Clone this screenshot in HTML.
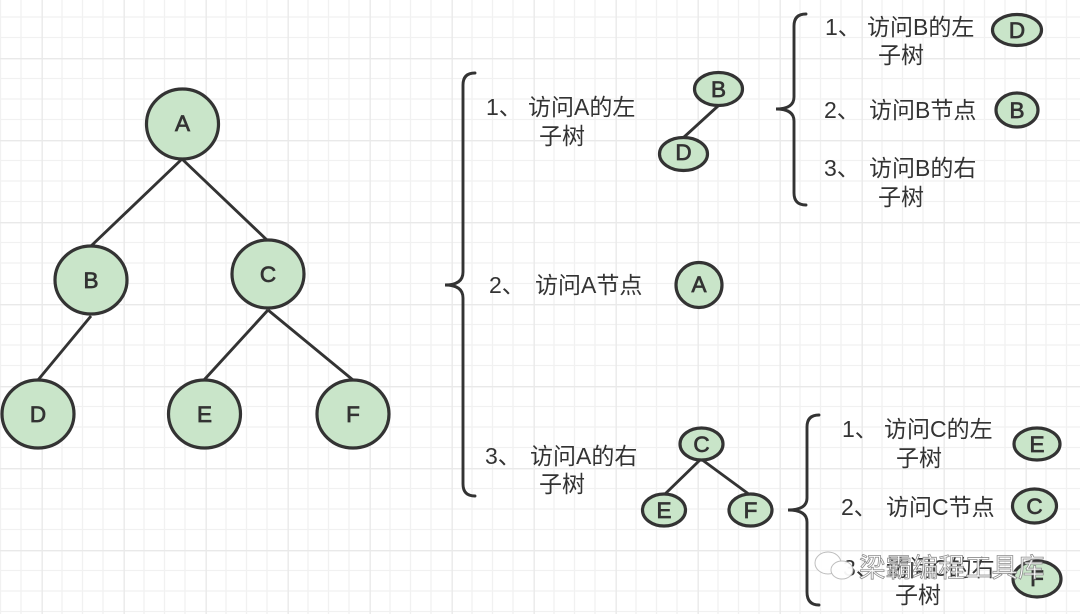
<!DOCTYPE html>
<html><head><meta charset="utf-8"><style>
html,body{margin:0;padding:0;background:#fff}
svg{display:block}
text{font-family:"Liberation Sans","Noto Sans CJK SC",sans-serif;fill:#333}
.n{font-size:22.5px;font-weight:400;text-anchor:middle;stroke:#333;stroke-width:.75}
.t{font-size:23px}
.c{fill:#c9e5c9;stroke:#333;stroke-width:3.2}
.l,.b{fill:none;stroke:#333;stroke-width:2.9}
.b{stroke-linecap:round}
</style></head><body>
<svg width="1080" height="614" viewBox="0 0 1080 614" xmlns="http://www.w3.org/2000/svg">
<defs>
<pattern id="g" x="41.5" y="58" width="82" height="82" patternUnits="userSpaceOnUse">
<path d="M20.5 0V82M41 0V82M61.5 0V82M0 20.5H82M0 41H82M0 61.5H82" stroke="#f1f1f1" stroke-width="1.3" fill="none"/>
<path d="M.6 0V82M0 .6H82" stroke="#e9e9e9" stroke-width="1.5" fill="none"/>
</pattern>
</defs>
<rect width="1080" height="614" fill="#fff"/>
<rect width="1080" height="614" fill="url(#g)"/>

<g class="lines">
<path class="l" d="M182 159L91 246M182 159L268 241M91 316L38 380M268 310L204 380M268 310L353 380M718 106L683 138M701 459L664 495M701 459L750 495"/>
</g>

<ellipse class="c" cx="182.500" cy="124" rx="36" ry="35"/>
<ellipse class="c" cx="91" cy="280" rx="36" ry="34"/>
<ellipse class="c" cx="268" cy="274" rx="36" ry="34"/>
<ellipse class="c" cx="38" cy="414" rx="36" ry="34"/>
<ellipse class="c" cx="204.500" cy="414" rx="36" ry="34"/>
<ellipse class="c" cx="353" cy="414" rx="36" ry="34"/>
<ellipse class="c" cx="718.500" cy="89" rx="24" ry="16.500"/>
<ellipse class="c" cx="683.500" cy="154" rx="24" ry="16.500"/>
<ellipse class="c" cx="699" cy="285" rx="23" ry="22.500"/>
<ellipse class="c" cx="701.500" cy="444" rx="21.500" ry="16"/>
<ellipse class="c" cx="664" cy="510" rx="21.500" ry="16"/>
<ellipse class="c" cx="750.500" cy="510" rx="21.500" ry="16"/>
<ellipse class="c" cx="1017" cy="30" rx="24.500" ry="15.500"/>
<ellipse class="c" cx="1017" cy="110" rx="21" ry="17"/>
<ellipse class="c" cx="1037" cy="444" rx="23" ry="16"/>
<ellipse class="c" cx="1034.500" cy="506" rx="22" ry="17"/>
<ellipse class="c" cx="1037" cy="579" rx="24" ry="18"/>

<g class="n">
<text x="182.500" y="131">A</text><text x="91" y="288">B</text><text x="268" y="282">C</text>
<text x="38" y="422">D</text><text x="204.500" y="422">E</text><text x="353" y="422">F</text>
<text x="718.500" y="97">B</text><text x="683.500" y="160">D</text><text x="699" y="292">A</text>
<text x="701.500" y="452">C</text><text x="664" y="518">E</text><text x="750.500" y="518">F</text>
<text x="1017" y="38">D</text><text x="1017" y="118">B</text><text x="1037" y="452">E</text>
<text x="1034.500" y="514">C</text><text x="1037" y="586">F</text>
</g>

<path class="b" d="M475 73Q463 73 463 85V272Q463 285 445 285Q463 285 463 298V484Q463 496 475 496"/>
<path class="b" d="M806 14Q794 14 794 26V97Q794 109 776 109Q794 109 794 121V193Q794 205 806 205"/>
<path class="b" d="M819 415Q807 415 807 427V498Q807 510 788 510Q807 510 807 522V592Q807 605 819 605"/>

<g class="t">
<text x="486" y="115">1、</text><text x="528" y="115">访问A的左</text><text x="539" y="144">子树</text>
<text x="489" y="293">2、</text><text x="535" y="293">访问A节点</text>
<text x="485" y="464">3、</text><text x="530" y="464">访问A的右</text><text x="539" y="492">子树</text>
<text x="825" y="35">1、</text><text x="867" y="35">访问B的左</text><text x="878" y="63">子树</text>
<text x="824" y="118">2、</text><text x="869" y="118">访问B节点</text>
<text x="824" y="176">3、</text><text x="869" y="176">访问B的右</text><text x="878" y="205">子树</text>
<text x="842" y="437">1、</text><text x="884" y="437">访问C的左</text><text x="896" y="466">子树</text>
<text x="841" y="515">2、</text><text x="886" y="515">访问C节点</text>
<text x="843" y="576">3、</text><text x="886" y="576">访问C的右</text><text x="895" y="603">子树</text>
</g>

<g opacity=".95">
<ellipse cx="828" cy="563" rx="13" ry="11" fill="#fff" stroke="#bbb" stroke-width="1"/>
<ellipse cx="842" cy="570" rx="11" ry="9" fill="#fff" stroke="#bbb" stroke-width="1"/>
<text x="859" y="577" style="font-size:26.500px;fill:#fff;stroke:#888;stroke-width:.8">梁霸编程工具库</text>
</g>
</svg>
</body></html>
